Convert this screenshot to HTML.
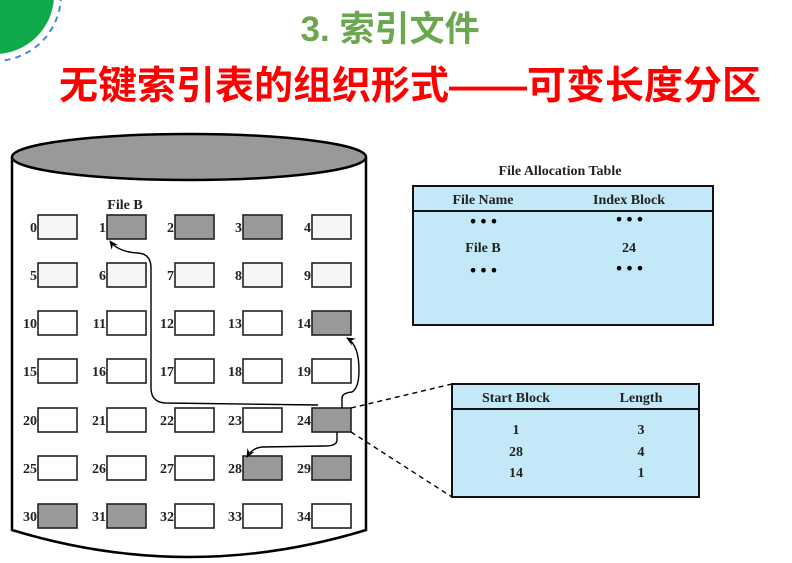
<!DOCTYPE html>
<html><head><meta charset="utf-8"><style>
html,body{margin:0;padding:0;background:#fff;width:792px;height:563px;overflow:hidden}
svg{display:block}
.l{font-family:"Liberation Serif",serif;font-weight:bold;font-size:14px;fill:#222}
.d{font-family:"DejaVu Sans",sans-serif;font-size:16px;fill:#000;letter-spacing:1px}
</style></head><body>
<svg width="792" height="563" viewBox="0 0 792 563" xmlns="http://www.w3.org/2000/svg">
<circle cx="-5" cy="-5" r="59" fill="#0fab4a"/>
<circle cx="-5" cy="-5" r="66" fill="none" stroke="#4a86e8" stroke-width="2" stroke-dasharray="6,5"/>
<text x="390" y="41" text-anchor="middle" font-family="Liberation Sans,Noto Sans CJK SC,sans-serif" font-weight="bold" font-size="35" fill="#6aa84f">3. 索引文件</text>
<text x="410" y="99" text-anchor="middle" font-family="Liberation Sans,Noto Sans CJK SC,sans-serif" font-weight="bold" font-size="39" fill="#ff0000">无键索引表的组织形式——可变长度分区</text>

<path d="M12,157 L12,530 Q189,584 366,530 L366,157" fill="#fff" stroke="#000" stroke-width="2.5"/>
<ellipse cx="189" cy="157" rx="177" ry="23" fill="#999" stroke="#000" stroke-width="2.5"/>
<text x="125" y="209" text-anchor="middle" class="l">File B</text>
<g id="blocks" stroke="#222" stroke-width="1.6">
</g>
<script>
(function(){
var g=document.getElementById('blocks');var ns='http://www.w3.org/2000/svg';
var xs=[38,107,175,243,312],ys=[215,263,311,359,408,456,504];
var filled={1:1,2:1,3:1,14:1,24:1,28:1,29:1,30:1,31:1};
var svg=g.ownerSVGElement;
for(var r=0;r<7;r++)for(var c=0;c<5;c++){var n=r*5+c;
var e=document.createElementNS(ns,'rect');e.setAttribute('x',xs[c]);e.setAttribute('y',ys[r]);e.setAttribute('width',39);e.setAttribute('height',24);
e.setAttribute('fill',filled[n]?'#999':(r<2?'#f6f6f6':'#fff'));g.appendChild(e);
var t=document.createElementNS(ns,'text');t.setAttribute('x',xs[c]-1);t.setAttribute('y',ys[r]+17);t.setAttribute('text-anchor','end');t.setAttribute('class','l');t.textContent=n;svg.appendChild(t);}
})();
</script>
<defs><marker id="a" markerUnits="userSpaceOnUse" markerWidth="10" markerHeight="8" refX="8" refY="4" orient="auto"><path d="M0,0 L9,4 L0,8 L3,4 z" fill="#000"/></marker></defs>
<g fill="none" stroke="#000" stroke-width="1.4">
<path d="M318,405 L165,403 Q151,402 151,388 L151,268 Q151,254 138,253 Q118,252 110,241" marker-end="url(#a)"/>
<path d="M342,408 L342,398 Q342,393 352,392 Q359,388 359,370 Q359,345 347,338" marker-end="url(#a)"/>
<path d="M337,432 L337,440 Q337,446 325,446 L262,447 Q252,448 247,457" marker-end="url(#a)"/>
<path d="M351,408 L452,384" stroke-dasharray="5,4"/>
<path d="M351,432 L452,497" stroke-dasharray="5,4"/>
</g>

<text x="560" y="175" text-anchor="middle" class="l">File Allocation Table</text>
<rect x="413" y="186" width="300" height="139" fill="#c3e8f7" stroke="#111" stroke-width="2"/>
<line x1="413" y1="211" x2="713" y2="211" stroke="#111" stroke-width="2"/>
<g class="l" text-anchor="middle">
<text x="483" y="204">File Name</text><text x="629" y="204">Index Block</text>
<text x="483" y="252">File B</text><text x="629" y="252">24</text>
</g>
<g class="d" text-anchor="middle">
<text x="484" y="227">•••</text><text x="630" y="225">•••</text>
<text x="484" y="276">•••</text><text x="630" y="274">•••</text>
</g>
<rect x="452" y="384" width="247" height="113" fill="#c3e8f7" stroke="#111" stroke-width="2"/>
<line x1="452" y1="409" x2="699" y2="409" stroke="#111" stroke-width="2"/>
<g class="l" text-anchor="middle">
<text x="516" y="402">Start Block</text><text x="641" y="402">Length</text>
<text x="516" y="434">1</text><text x="641" y="434">3</text>
<text x="516" y="456">28</text><text x="641" y="456">4</text>
<text x="516" y="477">14</text><text x="641" y="477">1</text>
</g>
</svg>
</body></html>
